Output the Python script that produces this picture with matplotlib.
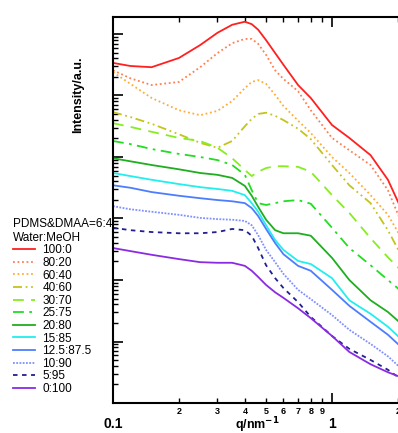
import numpy as np
import matplotlib
matplotlib.use('Agg')
import matplotlib.pyplot as plt
from matplotlib.ticker import LogLocator, FixedLocator, FuncFormatter, NullFormatter

plt.rcParams['font.family'] = ['Liberation Sans', 'DejaVu Sans']

# q grid (nm^-1) shared by every curve
q = [0.10, 0.12, 0.15, 0.20, 0.25, 0.30, 0.35, 0.40, 0.43, 0.46, 0.50,
     0.55, 0.60, 0.70, 0.80, 1.00, 1.20, 1.50, 1.80, 2.10]

# log10 of intensity (a.u.)
lg_100_0 = [5.53, 5.48, 5.46, 5.61, 5.82, 6.02, 6.15, 6.20, 6.16, 6.07, 5.90,
            5.69, 5.50, 5.17, 4.96, 4.52, 4.31, 4.03, 3.63, 3.11]
lg_80_20 = [5.41, 5.28, 5.17, 5.22, 5.46, 5.69, 5.85, 5.92, 5.92, 5.84, 5.66,
            5.41, 5.27, 5.07, 4.76, 4.31, 4.11, 3.87, 3.46, 2.89]
lg_60_40 = [5.38, 5.19, 4.96, 4.76, 4.68, 4.75, 4.91, 5.12, 5.22, 5.25, 5.19,
            5.01, 4.83, 4.59, 4.39, 4.00, 3.74, 3.38, 3.06, 2.65]
lg_40_60 = [4.73, 4.65, 4.54, 4.37, 4.23, 4.15, 4.26, 4.50, 4.62, 4.70, 4.72,
            4.67, 4.60, 4.46, 4.29, 3.87, 3.54, 3.25, 2.81, 2.36]
lg_30_70 = [4.55, 4.49, 4.41, 4.31, 4.26, 4.15, 3.98, 3.79, 3.69, 3.76, 3.82,
            3.85, 3.85, 3.84, 3.76, 3.38, 3.09, 2.68, 2.37, 2.13]
lg_25_75 = [4.26, 4.21, 4.13, 4.05, 4.00, 3.95, 3.87, 3.71, 3.46, 3.25, 3.22,
            3.25, 3.28, 3.30, 3.24, 2.85, 2.52, 2.24, 2.00, 1.80]
lg_20_80 = [3.98, 3.93, 3.87, 3.80, 3.74, 3.71, 3.66, 3.53, 3.37, 3.19, 2.98,
            2.81, 2.76, 2.76, 2.72, 2.36, 2.00, 1.67, 1.48, 1.27]
lg_15_85 = [3.74, 3.69, 3.63, 3.56, 3.51, 3.48, 3.45, 3.38, 3.25, 3.11, 2.89,
            2.65, 2.49, 2.31, 2.26, 2.03, 1.67, 1.45, 1.24, 1.02]
lg_125_875 = [3.54, 3.50, 3.43, 3.37, 3.33, 3.30, 3.28, 3.25, 3.17, 3.04, 2.83,
              2.60, 2.42, 2.23, 2.15, 1.84, 1.58, 1.32, 1.11, 0.89]
lg_10_90 = [3.20, 3.15, 3.11, 3.06, 3.01, 2.99, 2.98, 2.96, 2.89, 2.73, 2.49,
            2.29, 2.10, 1.84, 1.69, 1.43, 1.19, 0.96, 0.76, 0.54]
lg_5_95 = [2.85, 2.81, 2.78, 2.76, 2.76, 2.78, 2.83, 2.81, 2.72, 2.52, 2.24,
           2.03, 1.87, 1.64, 1.40, 1.09, 0.88, 0.70, 0.54, 0.37]
lg_0_100 = [2.52, 2.47, 2.41, 2.34, 2.29, 2.28, 2.28, 2.23, 2.15, 2.05, 1.92,
            1.80, 1.71, 1.54, 1.38, 1.09, 0.83, 0.63, 0.50, 0.41]

labels = ['100:0', '80:20', '60:40', '40:60', '30:70', '25:75', '20:80',
          '15:85', '12.5:87.5', '10:90', '5:95', '0:100']
series = [lg_100_0, lg_80_20, lg_60_40, lg_40_60, lg_30_70, lg_25_75, lg_20_80,
          lg_15_85, lg_125_875, lg_10_90, lg_5_95, lg_0_100]
colors = ['#ff2020', '#ff7f50', '#ffad33', '#c4c41c', '#86ee1e', '#22dd22',
          '#1fae1f', '#22eeee', '#4d7dff', '#8090ff', '#202090', '#8a2be2']
styles = ['-', (0, (1, 1.5)), (0, (1, 1.5)), (0, (5, 2, 1, 2, 1, 2)),
          (0, (6, 4)), (0, (6, 3, 1.5, 3)), '-', '-', '-', (0, (1, 0.8)),
          (0, (2.5, 2.5)), '-']

fig = plt.figure(figsize=(3.98, 4.33), dpi=100)
ax = fig.add_axes([113/398, 30/433, 297/398, 386/433])

for lg, lab, c, ls in zip(series, labels, colors, styles):
    ax.plot(q, 10**np.array(lg), color=c, linestyle=ls, linewidth=1.3, label=lab)

ax.set_xscale('log')
ax.set_yscale('log')
ax.set_xlim(0.1, 10**((410-113)/219 - 1))
ax.set_ylim(1, 10**(386/61.5))

# x ticks: majors big and low, minors small digits
ax.xaxis.set_major_locator(FixedLocator([0.1, 1]))
ax.xaxis.set_major_formatter(FuncFormatter(lambda v, p: '0.1' if v < 0.5 else '1'))
ax.xaxis.set_minor_locator(LogLocator(base=10, subs=np.arange(2, 10), numticks=20))
ax.xaxis.set_minor_formatter(FuncFormatter(lambda v, p: '%d' % round(v / 10**np.floor(np.log10(v) + 1e-9))))
ax.tick_params(axis='x', which='major', direction='in', length=7, width=1.2,
               top=True, pad=10, labelsize=10)
ax.tick_params(axis='x', which='minor', direction='in', length=3.5, width=1.0,
               top=True, pad=3, labelsize=6.5)
for t in ax.get_xticklabels(which='both'):
    t.set_fontweight('bold')

ax.yaxis.set_major_locator(LogLocator(base=10, numticks=20))
ax.yaxis.set_minor_locator(LogLocator(base=10, subs=np.arange(2, 10), numticks=20))
ax.yaxis.set_major_formatter(NullFormatter())
ax.yaxis.set_minor_formatter(NullFormatter())
ax.tick_params(axis='y', which='major', direction='in', length=7.5, width=1.2)
ax.tick_params(axis='y', which='minor', direction='in', length=3.5, width=1.0)

ax.spines['right'].set_visible(False)
for s in ['left', 'bottom', 'top']:
    ax.spines[s].set_linewidth(1.5)

fig.text(78/398, 1 - 95/433, 'Intensity/a.u.', rotation=90, ha='center',
         va='center', fontsize=9, fontweight='bold')
fig.text(257/398, 1 - 425/433, r'q/nm$^{\mathbf{-1}}$', ha='center', va='center',
         fontsize=9, fontweight='bold')

leg = ax.legend(loc='upper left', bbox_to_anchor=(13/398, 1 - 218/433),
                bbox_transform=fig.transFigure, frameon=False, fontsize=8.5,
                title='PDMS&DMAA=6:4\nWater:MeOH', title_fontsize=8.5,
                alignment='left', borderpad=0, borderaxespad=0,
                labelspacing=0.05, handlelength=1.9, handletextpad=0.6)

fig.savefig('out.png', dpi=100)
